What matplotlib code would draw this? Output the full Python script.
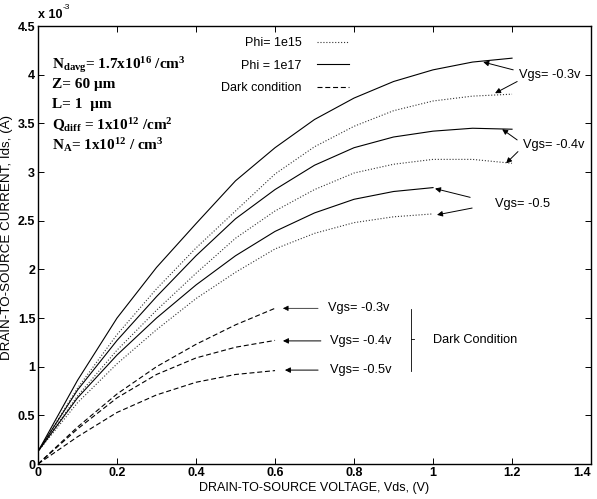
import matplotlib.pyplot as plt
import numpy as np
from matplotlib.ticker import FormatStrFormatter

plt.rcParams['font.family'] = ['Liberation Sans', 'DejaVu Sans']
plt.rcParams['mathtext.fontset'] = 'custom'
plt.rcParams['mathtext.rm'] = 'Liberation Serif:bold'
plt.rcParams['mathtext.it'] = 'Liberation Serif:bold'
plt.rcParams['mathtext.bf'] = 'Liberation Serif:bold'

# drain-source voltage grids (V)
vds_long = [0.0, 0.1, 0.2, 0.3, 0.4, 0.5, 0.6, 0.7, 0.8, 0.9, 1.0, 1.1, 1.2]
vds_mid = [0.0, 0.1, 0.2, 0.3, 0.4, 0.5, 0.6, 0.7, 0.8, 0.9, 1.0]
vds_dark = [0.0, 0.1, 0.2, 0.3, 0.4, 0.5, 0.6]

# drain current, units of 1e-3 A
phi17_vgs03 = [0.13, 0.86, 1.50, 2.02, 2.47, 2.91, 3.25, 3.54, 3.76, 3.93, 4.05, 4.13, 4.17]
phi15_vgs03 = [0.13, 0.78, 1.33, 1.80, 2.22, 2.60, 2.98, 3.26, 3.47, 3.63, 3.73, 3.78, 3.80]
phi17_vgs04 = [0.13, 0.76, 1.27, 1.72, 2.14, 2.52, 2.82, 3.07, 3.25, 3.36, 3.42, 3.45, 3.44]
phi15_vgs04 = [0.13, 0.70, 1.17, 1.58, 1.96, 2.32, 2.60, 2.82, 2.99, 3.08, 3.13, 3.13, 3.09]
phi17_vgs05 = [0.13, 0.68, 1.12, 1.50, 1.84, 2.14, 2.39, 2.58, 2.72, 2.80, 2.84]
phi15_vgs05 = [0.13, 0.63, 1.03, 1.38, 1.70, 1.97, 2.21, 2.37, 2.48, 2.54, 2.57]
dark_vgs03 = [0.0, 0.38, 0.72, 1.00, 1.23, 1.43, 1.60]
dark_vgs04 = [0.0, 0.36, 0.68, 0.92, 1.09, 1.20, 1.27]
dark_vgs05 = [0.0, 0.28, 0.53, 0.71, 0.84, 0.92, 0.96]

fig = plt.figure(figsize=(5.97, 4.99), dpi=100)
ax = fig.add_axes([0.0637, 0.0701, 0.9263, 0.8777])

lw = 0.8
dash = (4.5, 2.5)
ax.plot(vds_long, phi15_vgs03, color='#333333', ls=':', lw=lw, label='Phi= 1e15')
ax.plot(vds_long, phi17_vgs03, color='black', ls='-', lw=lw, label='Phi = 1e17')
ax.plot(vds_dark, dark_vgs03, color='black', ls='--', lw=lw, dashes=dash, label='Dark condition')
ax.plot(vds_long, phi15_vgs04, color='#333333', ls=':', lw=lw)
ax.plot(vds_long, phi17_vgs04, color='black', ls='-', lw=lw)
ax.plot(vds_mid, phi15_vgs05, color='#333333', ls=':', lw=lw)
ax.plot(vds_mid, phi17_vgs05, color='black', ls='-', lw=lw)
ax.plot(vds_dark, dark_vgs04, color='black', ls='--', lw=lw, dashes=dash)
ax.plot(vds_dark, dark_vgs05, color='black', ls='--', lw=lw, dashes=dash)

ax.set_xlim(0, 1.4)
ax.set_ylim(0, 4.5)
ax.set_xticks(np.arange(0, 1.41, 0.2))
ax.set_yticks(np.arange(0, 4.51, 0.5))
ax.xaxis.set_major_formatter(FormatStrFormatter('%g'))
ax.yaxis.set_major_formatter(FormatStrFormatter('%g'))
ax.tick_params(direction='in', top=True, right=True, length=4, width=0.7,
               labelsize=9, pad=2)
for lab in ax.get_xticklabels() + ax.get_yticklabels():
    lab.set_fontweight('bold')
ax.get_xticklabels()[-1].set_horizontalalignment('right')
for sp in ax.spines.values():
    sp.set_linewidth(1.0)

ax.set_xlabel('DRAIN-TO-SOURCE VOLTAGE, Vds, (V)', fontsize=9, labelpad=2)
ax.set_ylabel('DRAIN-TO-SOURCE CURRENT, Ids, (A)', fontsize=9.6)
ax.yaxis.set_label_coords(-0.046, 0.518)
ax.text(0.0, 1.012, 'x 10', transform=ax.transAxes, fontsize=9,
        fontweight='bold', va='bottom', ha='left')
ax.text(0.045, 1.035, '-3', transform=ax.transAxes, fontsize=6,
        va='bottom', ha='left')

ax.legend(loc='upper right', bbox_to_anchor=(0.572, 0.986), frameon=False,
          markerfirst=False, fontsize=9, handlelength=2.6,
          handletextpad=1.2, labelspacing=0.85, borderaxespad=0)

# parameter block
params = [
    r'N$_{\rm davg}$= 1.7x10$^{16}$ /cm$^{3}$',
    r'Z= 60 μm',
    r'L= 1  μm',
    r'Q$_{\rm diff}$ = 1x10$^{12}$ /cm$^{2}$',
    r'N$_{\rm A}$= 1x10$^{12}$ / cm$^{3}$',
]
for i, s in enumerate(params):
    ax.text(0.025, 0.912 - i * 0.046, s, transform=ax.transAxes,
            family='Liberation Serif', fontweight='bold', fontsize=11,
            va='center', ha='left')

arrow = dict(arrowstyle='-|>', color='black', lw=0.7, mutation_scale=8,
             shrinkA=0, shrinkB=0)
fs = 9.2

# illuminated curve labels
ax.text(1.218, 4.0, 'Vgs= -0.3v', fontsize=fs, va='center', ha='left')
ax.annotate('', xy=(1.127, 4.13), xytext=(1.203, 4.05), arrowprops=arrow)
ax.annotate('', xy=(1.157, 3.81), xytext=(1.213, 3.93), arrowprops=arrow)

ax.text(1.228, 3.28, 'Vgs= -0.4v', fontsize=fs, va='center', ha='left')
ax.annotate('', xy=(1.175, 3.44), xytext=(1.213, 3.33), arrowprops=arrow)
ax.annotate('', xy=(1.185, 3.09), xytext=(1.215, 3.21), arrowprops=arrow)

ax.text(1.157, 2.67, 'Vgs= -0.5', fontsize=fs, va='center', ha='left')
ax.annotate('', xy=(1.005, 2.83), xytext=(1.094, 2.74), arrowprops=arrow)
ax.annotate('', xy=(1.01, 2.56), xytext=(1.099, 2.63), arrowprops=arrow)

# dark condition labels
thin = dict(arrow, lw=0.5)
ax.text(0.734, 1.60, 'Vgs= -0.3v', fontsize=fs, va='center', ha='left')
ax.annotate('', xy=(0.62, 1.60), xytext=(0.709, 1.60), arrowprops=thin)
ax.text(0.739, 1.265, 'Vgs= -0.4v', fontsize=fs, va='center', ha='left')
ax.annotate('', xy=(0.62, 1.265), xytext=(0.716, 1.265), arrowprops=arrow)
ax.text(0.739, 0.965, 'Vgs= -0.5v', fontsize=fs, va='center', ha='left')
ax.annotate('', xy=(0.625, 0.965), xytext=(0.709, 0.965), arrowprops=arrow)

ax.plot([0.944, 0.944], [0.96, 1.59], color='black', lw=0.6)
ax.plot([0.944, 0.952], [1.28, 1.28], color='black', lw=0.6)
ax.text(1.0, 1.27, 'Dark Condition', fontsize=fs, va='center', ha='left')

fig.savefig('out.png', dpi=100)
